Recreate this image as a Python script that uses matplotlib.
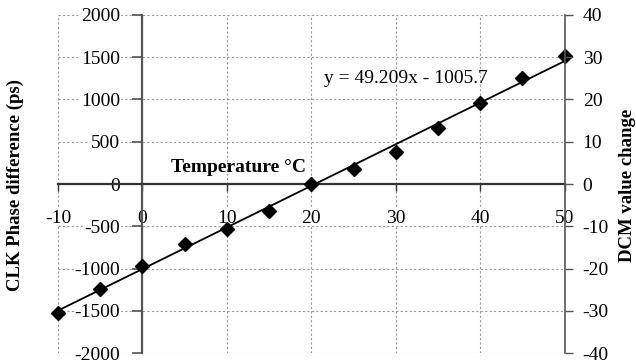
#!/usr/bin/env python3
"""Plot CLK phase difference vs temperature with linear trend line."""
import matplotlib
matplotlib.use("Agg")
import matplotlib.pyplot as plt

# measured points
temperature = [-10, -5, 0, 5, 10, 15, 20, 25, 30, 35, 40, 45, 50]
phase_diff = [-1525, -1245, -970, -710, -535, -315, -5, 180, 375, 660, 955, 1260, 1515]

# trend line from the fit
slope = 49.209
intercept = -1005.7
fit_x = [-10, 50]

x_ticks = [-10, 0, 10, 20, 30, 40, 50]
y_ticks = [-2000, -1500, -1000, -500, 0, 500, 1000, 1500, 2000]
y2_ticks = [-40, -30, -20, -10, 0, 10, 20, 30, 40]

plt.rcParams["font.family"] = ["Liberation Serif", "DejaVu Serif"]
plt.rcParams["font.size"] = 14
plt.rcParams["axes.unicode_minus"] = False

fig = plt.figure(figsize=(6.36, 3.64), dpi=100)
ax = fig.add_axes([0.0912, 0.0302, 0.7966, 0.9286])

ax.set_xlim(-10, 50)
ax.set_ylim(-2000, 2000)
ax.set_xticks(x_ticks)
ax.set_yticks(y_ticks)
ax.set_xticklabels([str(v) for v in x_ticks])
ax.set_yticklabels([str(v) for v in y_ticks])

ax.grid(True, color="#999999", linestyle=(0, (2, 2)), linewidth=0.8)

for side in ("top", "right"):
    ax.spines[side].set_visible(False)
ax.spines["left"].set_position(("data", 0))
ax.spines["bottom"].set_position(("data", 0))
ax.spines["left"].set_color("#555555")
ax.spines["left"].set_linewidth(1.6)
ax.spines["bottom"].set_color("#333333")
ax.spines["bottom"].set_linewidth(1.6)

ax.tick_params(axis="x", direction="out", length=5, width=1, color="#333333", pad=13.5)
ax.tick_params(axis="y", direction="out", length=7, width=1.2, color="#555555", pad=9)
for lbl in ax.get_yticklabels() + ax.get_xticklabels():
    lbl.set_bbox(dict(facecolor="white", edgecolor="none", pad=0.5))

fit_y = [slope * x + intercept for x in fit_x]
ax.plot(fit_x, fit_y, color="black", linewidth=1.3, zorder=3)
ax.plot(temperature, phase_diff, linestyle="none", marker="D", markersize=7.3,
        color="black", zorder=4, clip_on=False)

ax.text(21.5, 1254, "y = 49.209x - 1005.7", ha="left", va="center", fontsize=14)
ax.text(11.4, 200, "Temperature \u00b0C", ha="center", va="center",
        fontsize=14, fontweight="bold")

ax2 = ax.twinx()
ax2.set_ylim(-40, 40)
ax2.set_yticks(y2_ticks)
ax2.set_yticklabels([str(v) for v in y2_ticks])
for side in ("top", "left", "bottom"):
    ax2.spines[side].set_visible(False)
ax2.spines["right"].set_color("#555555")
ax2.spines["right"].set_linewidth(1.2)
ax2.tick_params(axis="y", direction="out", length=6, width=1, color="#555555", pad=7)

# axis titles as plain figure text, both read bottom to top
fig.text(15 / 636, 1 - 185 / 364, "CLK Phase difference (ps)", rotation=90,
         ha="center", va="center", fontsize=13.5, fontweight="bold")
fig.text(627 / 636, 1 - 185 / 364, "DCM value change", rotation=90,
         ha="center", va="center", fontsize=13.5, fontweight="bold")

fig.savefig("out.png", dpi=100)
